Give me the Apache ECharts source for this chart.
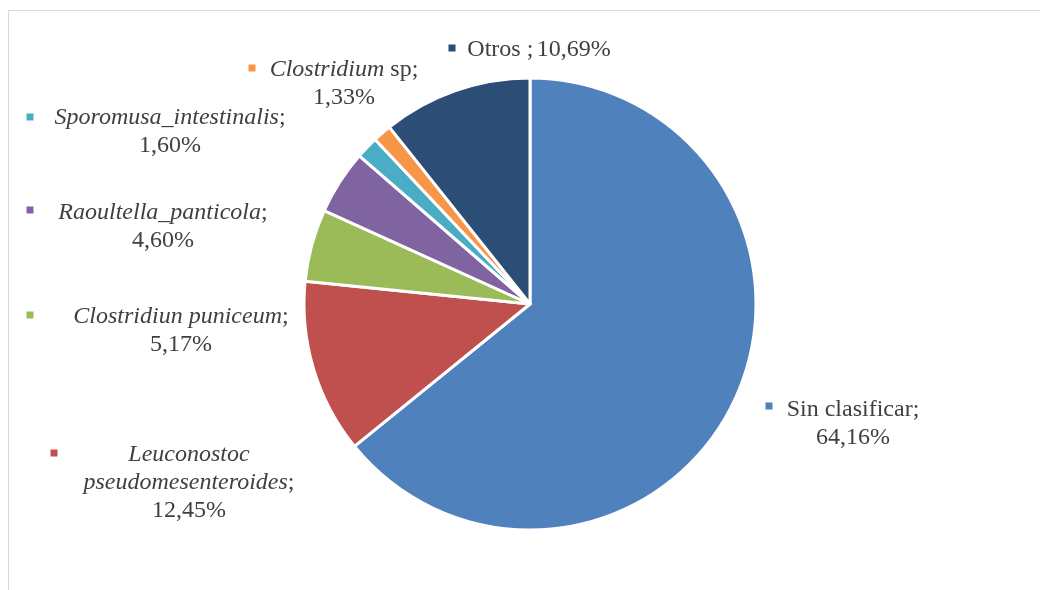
<!DOCTYPE html>
<html>
<head>
<meta charset="utf-8">
<script src="https://cdn.jsdelivr.net/npm/echarts@6/dist/echarts.min.js"></script>
<style>html,body{margin:0;padding:0;background:#fff}#c{width:1040px;height:590px}</style>
</head>
<body>
<div id="c"></div>
<script>
// ---- data ----
var categories = ['Sin clasificar', 'Leuconostoc pseudomesenteroides', 'Clostridiun puniceum', 'Raoultella_panticola', 'Sporomusa_intestinalis', 'Clostridium sp', 'Otros'];
var values = [64.16, 12.45, 5.17, 4.60, 1.60, 1.33, 10.69];
var italicParts = ['', 'Leuconostoc\npseudomesenteroides', 'Clostridiun puniceum', 'Raoultella_panticola', 'Sporomusa_intestinalis', 'Clostridium', ''];
var plainParts = ['Sin clasificar', '', '', '', '', ' sp', 'Otros '];
var separators = ['\n', '\n', '\n', '\n', '\n', '\n', ' '];
var colors = ['#4F81BD', '#C0504D', '#9BBB59', '#8064A2', '#4BACC6', '#F79646', '#2C4D75'];

// ---- layout (label centres and legend-key positions) ----
var labelPos = [[853, 424], [189, 483], [181, 331], [163, 227], [170, 132], [344, 84], [539, 50]];
var keyPos = [[769, 406], [54, 453], [30, 315], [30, 210], [30, 117], [252, 68], [452, 48]];

function fmt(v) { return v.toFixed(2).replace('.', ',') + '%'; }
function buildLabel(i) {
  var it = italicParts[i];
  var lines = it ? it.split('\n') : [];
  var s = '';
  lines.forEach(function (ln, k) {
    if (k > 0) s += '\n';
    s += '{i|' + ln + '}';
  });
  if (plainParts[i]) s += '{n|' + plainParts[i] + '}';
  s += '{n|;}';
  s += separators[i];
  s += '{n|' + fmt(values[i]) + '}';
  return s;
}

var chart = echarts.init(document.getElementById('c'), null, { renderer: 'canvas' });
var font = 'Liberation Serif';
var graphics = [{
  type: 'rect', x: 8.5, y: 10.5, z: -1,
  shape: { x: 0, y: 0, width: 1100, height: 700 },
  style: { fill: 'none', stroke: '#d9d9d9', lineWidth: 1 }
}];
keyPos.forEach(function (p, i) {
  graphics.push({
    type: 'rect', x: p[0] - 3.5, y: p[1] - 3.5,
    shape: { x: 0, y: 0, width: 7, height: 7 },
    style: { fill: colors[i] }
  });
});

chart.setOption({
  animation: false,
  backgroundColor: '#fff',
  color: colors,
  graphic: graphics,
  series: [{
    type: 'pie',
    center: [530, 304],
    radius: [0, 226],
    startAngle: 90,
    clockwise: true,
    avoidLabelOverlap: false,
    itemStyle: { borderColor: '#fff', borderWidth: 3 },
    labelLine: { show: false },
    label: {
      show: true,
      position: 'outside',
      formatter: function (p) { return buildLabel(p.dataIndex); },
      align: 'center',
      lineHeight: 28,
      rich: {
        i: { fontFamily: font, fontSize: 24, fontStyle: 'italic', color: '#404040', lineHeight: 28 },
        n: { fontFamily: font, fontSize: 24, color: '#404040', lineHeight: 28 }
      }
    },
    labelLayout: function (params) {
      var p = labelPos[params.dataIndex];
      return { x: p[0], y: p[1], align: 'center', verticalAlign: 'middle' };
    },
    data: categories.map(function (c, i) { return { name: c, value: values[i] }; })
  }]
});
</script>
</body>
</html>
